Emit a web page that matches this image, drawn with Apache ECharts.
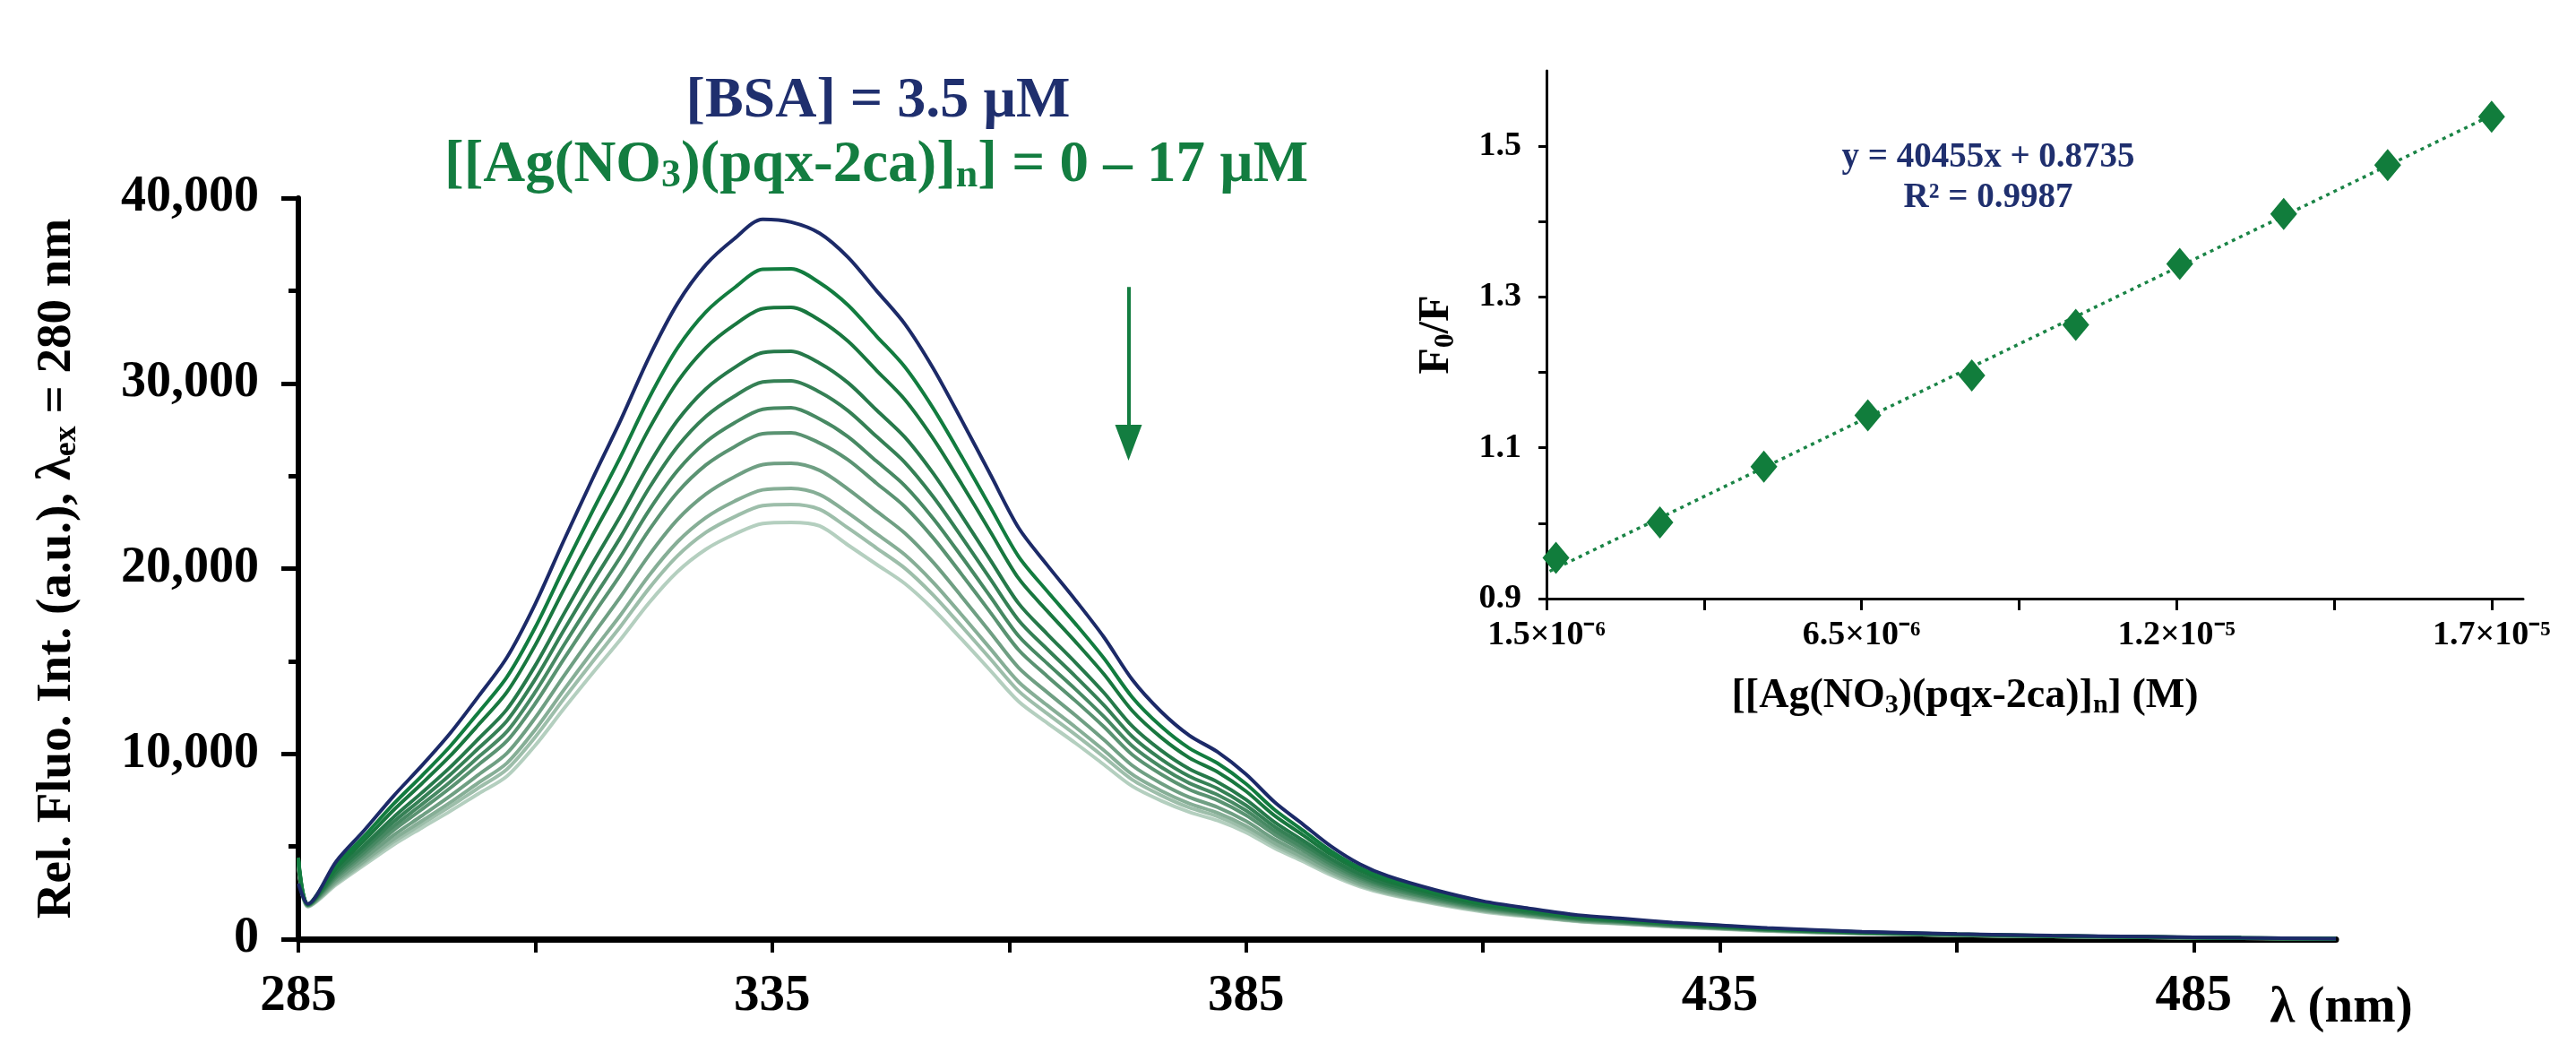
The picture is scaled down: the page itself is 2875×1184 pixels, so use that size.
<!DOCTYPE html>
<html>
<head>
<meta charset="utf-8">
<script src="https://cdn.jsdelivr.net/npm/echarts@6/dist/echarts.min.js"></script>
<style>
html, body { margin: 0; padding: 0; background: #fff; }
#chart { width: 2875px; height: 1184px; }
</style>
</head>
<body>
<div id="chart"></div>
<script>
// emission spectra
const wavelengths = [285, 286, 289, 292, 295, 298, 301, 304, 307, 310, 313, 316, 319, 322, 325, 328, 331, 334, 337, 340,
  343, 346, 349, 352, 355, 358, 361, 364, 367, 370, 373, 376, 379, 382, 385, 388, 391, 394, 397, 400,
  405, 410, 415, 420, 425, 430, 435, 440, 450, 460, 470, 480, 490, 500];

const bsa0 = [3000, 1900, 4200, 5900, 7700, 9350, 11100, 13100, 15200, 18100, 21500, 24800, 28000, 31400, 34300, 36400, 37800, 38850, 38700, 38100,
  36800, 35000, 33200, 30800, 28000, 25100, 22200, 20200, 18300, 16300, 14000, 12300, 11000, 10100, 8900, 7400, 6200, 5000, 4050, 3400,
  2650, 2050, 1650, 1300, 1100, 900, 750, 600, 400, 280, 190, 130, 70, 20];
const ag1 = [4400, 1880, 3990, 5590, 7270, 8800, 10400, 12230, 14140, 16830, 20000, 23060, 26040, 29200, 31900, 33850, 35150, 36150, 36180, 35430,
  34220, 32550, 30880, 28640, 26040, 23340, 20650, 18790, 17020, 15160, 13050, 11500, 10310, 9490, 8380, 6990, 5870, 4740, 3850, 3240,
  2530, 1960, 1580, 1240, 1050, 860, 720, 570, 380, 270, 180, 120, 70, 20];
const ag2 = [4350, 1870, 3830, 5350, 6940, 8380, 9880, 11570, 13330, 15870, 18860, 21750, 24560, 27540, 30080, 31920, 33150, 34030, 34100, 33410,
  32270, 30700, 29120, 27010, 24560, 22010, 19470, 17720, 16050, 14300, 12320, 10900, 9790, 9020, 7980, 6670, 5620, 4550, 3700, 3110,
  2430, 1880, 1520, 1200, 1020, 830, 690, 550, 370, 260, 180, 120, 60, 20];
const ag3 = [4300, 1860, 3650, 5080, 6560, 7890, 9270, 10810, 12400, 14770, 17540, 20240, 22850, 25620, 27990, 29700, 30840, 31660, 31730, 31090,
  30030, 28560, 27090, 25130, 22850, 20480, 18120, 16480, 14930, 13300, 11490, 10200, 9190, 8480, 7530, 6320, 5330, 4330, 3520, 2970,
  2320, 1800, 1450, 1150, 970, 800, 660, 530, 350, 250, 170, 120, 60, 20];
const ag4 = [4250, 1850, 3530, 4900, 6310, 7560, 8860, 10300, 11780, 14030, 16660, 19220, 21700, 24340, 26580, 28210, 29300, 30070, 30130, 29530,
  28520, 27130, 25730, 23870, 21700, 19450, 17210, 15660, 14180, 12630, 10930, 9730, 8790, 8130, 7220, 6070, 5130, 4180, 3400, 2870,
  2250, 1750, 1410, 1110, 950, 770, 650, 520, 340, 240, 160, 110, 60, 20];
const ag5 = [4200, 1840, 3410, 4720, 6070, 7260, 8480, 9830, 11200, 13340, 15850, 18280, 20640, 23140, 25280, 26830, 27860, 28600, 28680, 28080,
  27120, 25800, 24470, 22700, 20640, 18500, 16360, 14890, 13490, 12010, 10420, 9300, 8420, 7790, 6940, 5850, 4950, 4040, 3300, 2780,
  2180, 1700, 1370, 1080, 920, 750, 630, 500, 330, 230, 160, 110, 60, 20];
const ag6 = [4150, 1830, 3310, 4570, 5860, 6990, 8150, 9410, 10690, 12720, 15110, 17430, 19680, 22070, 24110, 25590, 26570, 27280, 27330, 26780,
  25870, 24610, 23340, 21650, 19680, 17650, 15610, 14200, 12860, 11460, 9950, 8910, 8080, 7490, 6690, 5650, 4790, 3910, 3200, 2700,
  2120, 1650, 1330, 1050, 900, 730, 610, 490, 330, 230, 150, 110, 60, 20];
const ag7 = [4100, 1810, 3180, 4380, 5590, 6650, 7720, 8870, 10030, 11950, 14190, 16370, 18480, 20720, 22640, 24020, 24950, 25610, 25680, 25300,
  24290, 23100, 21910, 20330, 18480, 16570, 14650, 13330, 12080, 10760, 9370, 8420, 7660, 7120, 6370, 5390, 4590, 3750, 3080, 2600,
  2050, 1590, 1290, 1020, 870, 710, 590, 470, 320, 220, 150, 100, 60, 20];
const ag8 = [4050, 1790, 3080, 4230, 5380, 6370, 7370, 8440, 9500, 11310, 13440, 15500, 17500, 19630, 21440, 22750, 23630, 24250, 24330, 24000,
  23000, 21880, 20750, 19250, 17500, 15690, 13880, 12630, 11440, 10190, 8890, 8020, 7320, 6810, 6110, 5190, 4420, 3630, 2970, 2520,
  1980, 1550, 1250, 990, 840, 690, 580, 460, 310, 210, 150, 100, 50, 20];
const ag9 = [4000, 1770, 3010, 4130, 5240, 6200, 7150, 8160, 9170, 10910, 12960, 14950, 16880, 18930, 20680, 21950, 22790, 23400, 23460, 23200,
  22190, 21110, 20020, 18570, 16880, 15140, 13390, 12180, 11030, 9830, 8600, 7770, 7100, 6620, 5940, 5060, 4320, 3550, 2910, 2470,
  1940, 1520, 1230, 970, 830, 680, 570, 450, 300, 210, 140, 100, 50, 20];
const ag10 = [3950, 1750, 2940, 4020, 5080, 6000, 6900, 7850, 8790, 10460, 12430, 14330, 16180, 18150, 19830, 21040, 21850, 22430, 22490, 22300,
  21270, 20230, 19190, 17800, 16180, 14510, 12830, 11680, 10580, 9420, 8250, 7480, 6860, 6400, 5760, 4910, 4200, 3450, 2840, 2410,
  1900, 1480, 1200, 950, 810, 660, 550, 440, 300, 210, 140, 100, 50, 20];

const spectra = [bsa0, ag1, ag2, ag3, ag4, ag5, ag6, ag7, ag8, ag9, ag10];
const spectraColors = ['#1c2a68', '#127c3f', '#19773f', '#26794a', '#358055', '#478963', '#5a9372', '#6f9f83', '#86ae96', '#9dbeaa', '#b4cfbf'];

const mainXLabels = [285, 335, 385, 435, 485];
const mainXTicks = [285, 310, 335, 360, 385, 410, 435, 460, 485];

// inset: Stern-Volmer plot
const quencherConc = [1.65e-6, 3.3e-6, 4.95e-6, 6.6e-6, 8.25e-6, 9.9e-6, 1.155e-5, 1.32e-5, 1.485e-5, 1.65e-5];
const f0OverF = [0.954, 1.001, 1.075, 1.143, 1.196, 1.263, 1.344, 1.410, 1.475, 1.539];
const fitSlope = 40455;
const fitIntercept = 0.8735;
const fitRange = [1.55e-6, 1.66e-5];
const insetXTickVals = [1.5e-6, 6.5e-6, 1.15e-5, 1.65e-5];
const insetXTickText = ['1.5×10⁻⁶', '6.5×10⁻⁶', '1.2×10⁻⁵', '1.7×10⁻⁵'];
const insetXMinor = [1.5e-6, 4e-6, 6.5e-6, 9e-6, 1.15e-5, 1.4e-5, 1.65e-5];
const insetYLabels = [0.9, 1.1, 1.3, 1.5];
const insetYTicks = [0.9, 1.0, 1.1, 1.2, 1.3, 1.4, 1.5];

const arrowAt = { lambda: 372.6, from: 35200, to: 26800 };

const serif = '"Liberation Serif", "Times New Roman", serif';
const navy = '#1f2f6e';
const green = '#137d40';

const chart = echarts.init(document.getElementById('chart'));

const mainSeries = [];
for (let i = spectra.length - 1; i >= 0; i--) {
  const s = {
    type: 'line',
    xAxisIndex: 0,
    yAxisIndex: 0,
    data: wavelengths.map((w, k) => [w, spectra[i][k]]),
    showSymbol: false,
    smooth: 0.3,
    lineStyle: { color: spectraColors[i], width: 4 },
    z: 3 + (spectra.length - i)
  };
  if (i === 0) {
    s.markLine = {
      silent: true,
      symbol: ['none', 'triangle'],
      symbolSize: [30, 40],
      label: { show: false },
      lineStyle: { color: green, width: 4, type: 'solid' },
      data: [[
        { coord: [arrowAt.lambda, arrowAt.from] },
        { coord: [arrowAt.lambda, arrowAt.to] }
      ]]
    };
  }
  mainSeries.push(s);
}

// rich text with a lowered subscript token
const subRich = (size, subSize, color) => ({
  t: { fontFamily: serif, fontWeight: 'bold', fontSize: size, color: color, lineHeight: size + 4 },
  s: { fontFamily: serif, fontWeight: 'bold', fontSize: subSize, color: color, lineHeight: Math.round(subSize / 5), verticalAlign: 'bottom' }
});

const option = {
  animation: false,
  backgroundColor: '#ffffff',
  grid: [
    { left: 333, top: 221, width: 2274, height: 827 },
    { left: 1726, top: 79, width: 1090, height: 589 }
  ],
  xAxis: [
    {
      gridIndex: 0,
      type: 'value',
      min: 285,
      max: 500,
      splitLine: { show: false },
      axisLine: { lineStyle: { color: '#000', width: 7 } },
      axisTick: { customValues: mainXTicks, length: 15, lineStyle: { color: '#000', width: 4 } },
      axisLabel: {
        customValues: mainXLabels,
        margin: 36,
        color: '#000',
        fontFamily: serif,
        fontWeight: 'bold',
        fontSize: 57
      }
    },
    {
      gridIndex: 1,
      type: 'value',
      min: 1.5e-6,
      max: 1.7e-5,
      splitLine: { show: false },
      axisLine: { lineStyle: { color: '#000', width: 3 } },
      axisTick: { customValues: insetXMinor, length: 13, lineStyle: { color: '#000', width: 3 } },
      axisLabel: {
        customValues: insetXTickVals,
        margin: 22,
        color: '#000',
        fontFamily: serif,
        fontWeight: 'bold',
        fontSize: 38,
        formatter: function (v) {
          let best = 0;
          insetXTickVals.forEach((t, k) => { if (Math.abs(t - v) < Math.abs(insetXTickVals[best] - v)) best = k; });
          return insetXTickText[best];
        }
      }
    }
  ],
  yAxis: [
    {
      gridIndex: 0,
      type: 'value',
      min: 0,
      max: 40000,
      interval: 10000,
      splitLine: { show: false },
      axisLine: { show: true, lineStyle: { color: '#000', width: 6 } },
      axisTick: { show: true, length: 19, lineStyle: { color: '#000', width: 5 } },
      minorTick: { show: true, splitNumber: 2, length: 11, lineStyle: { color: '#000', width: 5 } },
      axisLabel: {
        margin: 44,
        color: '#000',
        fontFamily: serif,
        fontWeight: 'bold',
        fontSize: 56,
        formatter: v => v.toLocaleString('en-US')
      },
      name: '{t|Rel. Fluo. Int. (a.u.), λ}{s|ex}{t| = 280 nm}',
      nameLocation: 'middle',
      nameGap: 240,
      nameTextStyle: { rich: subRich(55, 36, '#000') }
    },
    {
      gridIndex: 1,
      type: 'value',
      min: 0.9,
      max: 1.6,
      splitLine: { show: false },
      axisLine: { show: true, lineStyle: { color: '#000', width: 3 } },
      axisTick: { show: true, customValues: insetYTicks, length: 9, lineStyle: { color: '#000', width: 3 } },
      axisLabel: {
        customValues: insetYLabels,
        margin: 28,
        color: '#000',
        fontFamily: serif,
        fontWeight: 'bold',
        fontSize: 38,
        formatter: v => v.toFixed(1)
      },
      name: '{t|F}{s|0}{t|/F}',
      nameLocation: 'middle',
      nameGap: 96,
      nameTextStyle: { rich: subRich(48, 32, '#000') }
    }
  ],
  series: mainSeries.concat([
    {
      type: 'line',
      xAxisIndex: 1,
      yAxisIndex: 1,
      data: fitRange.map(x => [x, fitSlope * x + fitIntercept]),
      showSymbol: false,
      lineStyle: { color: '#1a8446', width: 3.5, type: [4, 5] },
      z: 5
    },
    {
      type: 'scatter',
      xAxisIndex: 1,
      yAxisIndex: 1,
      data: quencherConc.map((x, k) => [x, f0OverF[k]]),
      symbol: 'diamond',
      symbolSize: [30, 36],
      itemStyle: { color: '#117d3c', opacity: 1 },
      z: 6
    }
  ]),
  graphic: [
    {
      type: 'text', x: 980, y: 113,
      style: { text: '[BSA] = 3.5 µM', fill: navy, font: 'bold 64px ' + serif, align: 'center', verticalAlign: 'middle' }
    },
    {
      type: 'text', x: 978, y: 185,
      style: {
        text: '{t|[[Ag(NO}{s|3}{t|)(pqx-2ca)]}{s|n}{t|] = 0 – 17 µM}',
        align: 'center', verticalAlign: 'middle',
        rich: {
          t: { fill: green, font: 'bold 65px ' + serif, lineHeight: 68 },
          s: { fill: green, font: 'bold 44px ' + serif, lineHeight: 8, verticalAlign: 'bottom' }
        }
      }
    },
    {
      type: 'text', x: 2613, y: 1125,
      style: { text: 'λ (nm)', fill: '#000', font: 'bold 57px ' + serif, align: 'center', verticalAlign: 'middle' }
    },
    {
      type: 'text', x: 2219, y: 176,
      style: { text: 'y = 40455x + 0.8735', fill: navy, font: 'bold 39px ' + serif, align: 'center', verticalAlign: 'middle' }
    },
    {
      type: 'text', x: 2219, y: 221,
      style: { text: 'R² = 0.9987', fill: navy, font: 'bold 39px ' + serif, align: 'center', verticalAlign: 'middle' }
    },
    {
      type: 'text', x: 2193, y: 777,
      style: {
        text: '{t|[[Ag(NO}{s|3}{t|)(pqx-2ca)]}{s|n}{t|] (M)}',
        align: 'center', verticalAlign: 'middle',
        rich: {
          t: { fill: '#000', font: 'bold 46px ' + serif, lineHeight: 50 },
          s: { fill: '#000', font: 'bold 30px ' + serif, lineHeight: 6, verticalAlign: 'bottom' }
        }
      }
    }
  ]
};

chart.setOption(option);
</script>
</body>
</html>
